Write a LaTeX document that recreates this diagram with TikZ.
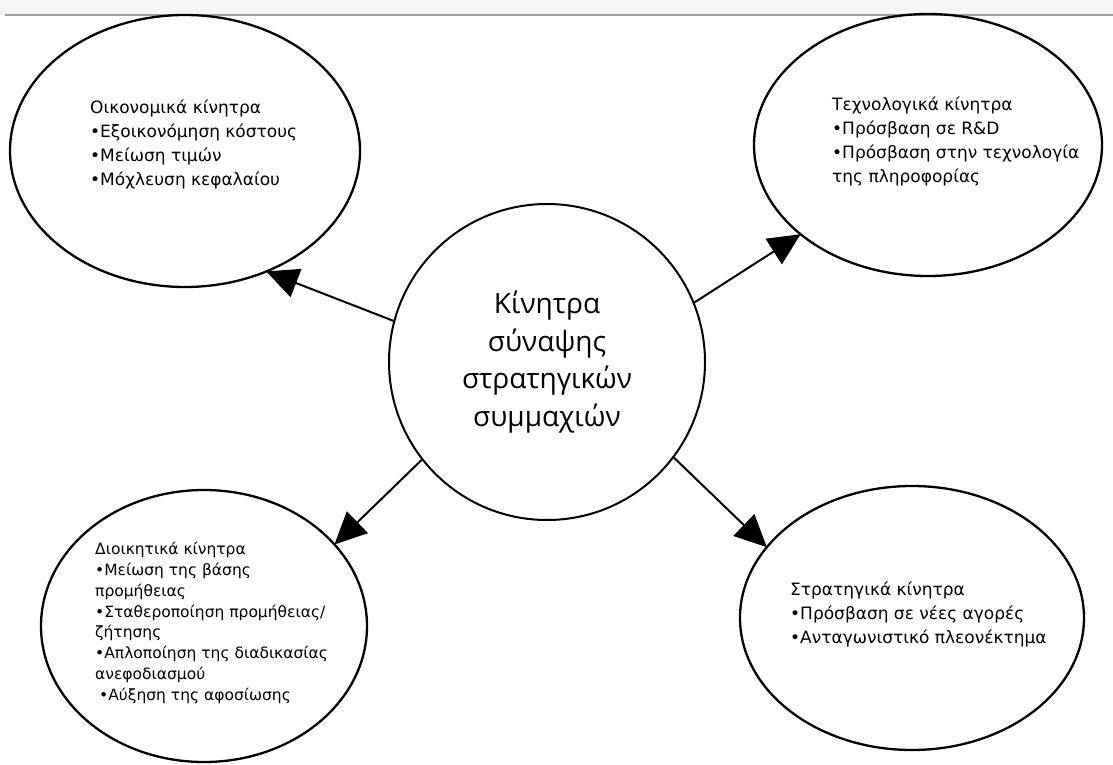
\documentclass[tikz,border=0pt]{standalone}
\usepackage{fontspec}
\setmainfont{DejaVu Sans}
\newfontfamily\hubfont{Open Sans}
\usetikzlibrary{shapes.geometric, arrows.meta}

\begin{document}
\begin{tikzpicture}[
    x=1pt, y=-1pt,
    % Ellipse for each group of motives
    motive/.style={
        ellipse,
        draw=black,
        line width=2.3pt,
        inner sep=0pt,
        outer sep=0pt
    },
    % Text set inside an ellipse
    motivetext/.style={
        anchor=north west,
        align=left,
        inner sep=0pt,
        font=\fontsize{17}{24}\selectfont
    },
    % Arrow style
    arrow/.style={
        -{Triangle[length=32pt, width=30pt]},
        line width=2pt,
        black
    }
]

\useasboundingbox (0,0) rectangle (1113,765);

% === Top border ===
\fill[gray!8] (0,0) rectangle (1113,15);
\draw[gray!75, line width=2pt] (5,15) -- (1113,15);

% === Central circle ===
\node[circle, draw=black, line width=2pt, minimum size=316pt, inner sep=0pt,
    align=center, font=\hubfont\fontsize{28}{37.5}\selectfont]
    (hub) at (547,362) {Κίνητρα\\σύναψης\\στρατηγικών\\συμμαχιών};

% === Economic motives (top left) ===
\node[motive, minimum width=350pt, minimum height=272pt] (eco) at (185,151) {};
\node[motivetext] (ecotext) at (90,100)
    {Οικονομικά κίνητρα\\•Εξοικονόμηση κόστους\\•Μείωση τιμών\\•Μόχλευση κεφαλαίου};

% === Technological motives (top right) ===
\node[motive, minimum width=348pt, minimum height=262pt] (tech) at (928,145) {};
\node[motivetext] (techtext) at (832,97)
    {Τεχνολογικά κίνητρα\\•Πρόσβαση σε R\&D\\•Πρόσβαση στην τεχνολογία\\της πληροφορίας};

% === Administrative motives (bottom left) ===
\node[motive, minimum width=326pt, minimum height=272pt] (admin) at (204,626) {};
\node[motivetext, font=\fontsize{15.5}{20.8}\selectfont] (admintext) at (95,542)
    {Διοικητικά κίνητρα\\•Μείωση της βάσης\\προμήθειας\\•Σταθεροποίηση προμήθειας/\\ζήτησης\\%
     •Απλοποίηση της διαδικασίας\\ανεφοδιασμού\\\hspace*{4pt}•Αύξηση της αφοσίωσης};

% === Strategic motives (bottom right) ===
\node[motive, minimum width=344pt, minimum height=264pt] (strat) at (912,618) {};
\node[motivetext] (strattext) at (790,582)
    {Στρατηγικά κίνητρα\\•Πρόσβαση σε νέες αγορές\\•Ανταγωνιστικό πλεονέκτημα};

% === Arrows from the centre ===
\draw[arrow] (hub.165) -- (eco.-56);
\draw[arrow] (hub.22) -- (tech.215);
\draw[arrow] (hub.218) -- (admin.32);
\draw[arrow] (hub.-37) -- (strat.154);

\end{tikzpicture}
\end{document}
